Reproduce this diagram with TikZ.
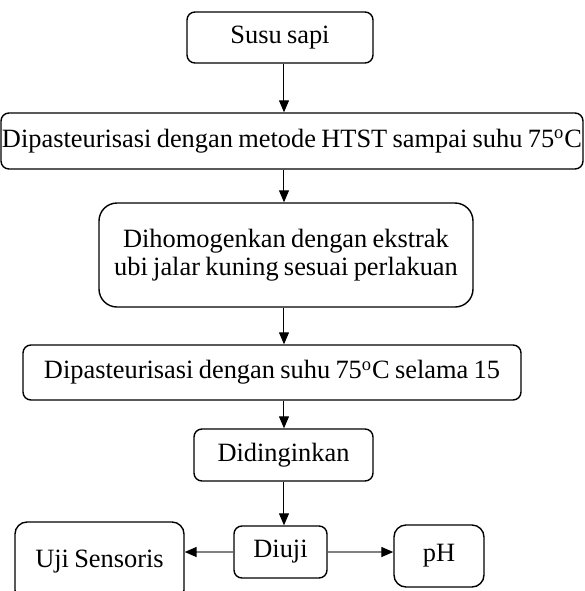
\documentclass[tikz,border=0pt]{standalone}
\usepackage{fontspec}
\setmainfont{Liberation Serif}[WordSpace=0.8]
\usetikzlibrary{calc,arrows.meta,positioning}

\begin{document}
\begin{tikzpicture}[x=0.5pt, y=-0.5pt,
    procbox/.style={draw, line width=0.7pt, rounded corners=4pt, align=center, inner sep=0pt,
        font=\fontsize{13.2}{14}\selectfont},
    flow/.style={-{Triangle[length=6pt, width=5pt]}, line width=0.5pt},
    sideflow/.style={-{Triangle[length=6pt, width=5pt, black]}, line width=0.7pt, gray}]
    	% Page frame
    	\useasboundingbox (0,0) rectangle (585,591);

    	% Main column
    	\coordinate (spine) at (284,0);

    	% Raw milk
    	\node[procbox, minimum width=93pt, minimum height=25.5pt] (susu) at (280,37.5) {Susu sapi};

    	% First pasteurisation
    	\node[procbox, minimum width=291pt, minimum height=28pt] (pasA) at (292,141)
    		{Dipasteurisasi dengan metode HTST sampai suhu 75\textsuperscript{o}C};

    	% Homogenisation
    	\node[procbox, rounded corners=9pt, minimum width=187pt, minimum height=52pt] (homog) at (286,255)
    		{Dihomogenkan dengan ekstrak\\ubi jalar kuning sesuai perlakuan};

    	% Second pasteurisation
    	\node[procbox, minimum width=249pt, minimum height=27.5pt] (pasB) at (272,372.5)
    		{Dipasteurisasi dengan suhu 75\textsuperscript{o}C selama 15};

    	% Cooling
    	\node[procbox, minimum width=89.5pt, minimum height=26pt] (dingin) at (283.5,455) {Didinginkan};

    	% Testing
    	\node[procbox, minimum width=46.5pt, minimum height=26pt] (uji) at (280.5,552) {Diuji};
    	\node[procbox, rounded corners=6pt, minimum width=84.5pt, minimum height=40pt] (sensor) at (99.5,562) {Uji Sensoris};
    	\node[procbox, rounded corners=6pt, minimum width=45pt, minimum height=31pt] (ph) at (439,556) {pH};

    	% Vertical arrows
    	\draw[flow] (susu.south -| spine) -- (pasA.north -| spine);
    	\draw[flow] (pasA.south -| spine) -- (homog.north -| spine);
    	\draw[flow] (homog.south -| spine) -- (pasB.north -| spine);
    	\draw[flow] (pasB.south -| spine) -- (dingin.north -| spine);
    	\draw[flow] (dingin.south -| spine) -- (uji.north -| spine);

    	% Side arrows
    	\draw[sideflow] (uji.west) -- (uji.west -| sensor.east);
    	\draw[sideflow] (uji.east) -- (uji.east -| ph.west);
\end{tikzpicture}
\end{document}
